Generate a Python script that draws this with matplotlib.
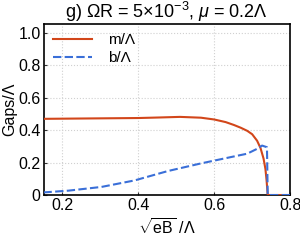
import numpy as np
import matplotlib
matplotlib.use('Agg')
import matplotlib.pyplot as plt

plt.rc('font', family='Liberation Sans')
plt.rc('mathtext', fontset='custom', rm='Liberation Sans', it='Liberation Sans:italic')

# m/Lambda 曲线
m_x = [0.15, 0.20, 0.30, 0.40, 0.45, 0.51, 0.565, 0.60, 0.63, 0.652, 0.67, 0.687, 0.70, 0.713, 0.722, 0.73, 0.735, 0.738, 0.740, 0.741, 0.80]
m_y = [0.470, 0.471, 0.473, 0.475, 0.478, 0.482, 0.477, 0.466, 0.450, 0.432, 0.415, 0.396, 0.375, 0.335, 0.290, 0.225, 0.160, 0.090, 0.030, 0.0, 0.0]

# b/Lambda 曲线
b_x = [0.15, 0.216, 0.303, 0.39, 0.478, 0.565, 0.652, 0.687, 0.713, 0.726, 0.739, 0.741, 0.80]
b_y = [0.016, 0.027, 0.050, 0.090, 0.148, 0.195, 0.238, 0.255, 0.285, 0.305, 0.295, 0.0, 0.0]

x_ticks = [0.2, 0.4, 0.6, 0.8]
y_ticks = [0, 0.2, 0.4, 0.6, 0.8, 1.0]
y_ticklabels = ['0', '0.2', '0.4', '0.6', '0.8', '1.0']

fig = plt.figure(figsize=(3.0, 2.45), dpi=100)
ax = fig.add_axes([0.145, 0.204, 0.822, 0.698])

ax.plot(m_x, m_y, color='#d2461a', lw=1.5, label='m/Λ', zorder=3)
ax.plot(b_x, b_y, color='#3a6fd8', lw=1.5, dashes=(4, 1.6), label='b/Λ', zorder=4)

ax.set_xlim(0.15, 0.8)
ax.set_ylim(0, 1.055)
ax.set_xticks(x_ticks)
ax.set_xticklabels(['0.2', '0.4', '0.6', '0.8'])
ax.set_yticks(y_ticks)
ax.set_yticklabels(y_ticklabels)
ax.grid(True, color='#d0d0d0', ls=':', lw=0.8)
ax.tick_params(direction='in', length=2, labelsize=11.5, pad=2, color='#333333')
for s in ax.spines.values():
    s.set_linewidth(1.2)

ax.set_title(r'g) ΩR = 5×10$^{-3}$, $\mu$ = 0.2Λ', fontsize=13, pad=2)
ax.set_xlabel(r'$\sqrt{\rm eB}$ /Λ', fontsize=11.5, labelpad=4)
ax.set_ylabel('Gaps/Λ', fontsize=11.5, labelpad=1)

ax.legend(loc='upper left', frameon=False, fontsize=11, handlelength=2.6,
          handletextpad=1.0, borderaxespad=0.2, labelspacing=0.25)

fig.savefig('out.png', dpi=100)
